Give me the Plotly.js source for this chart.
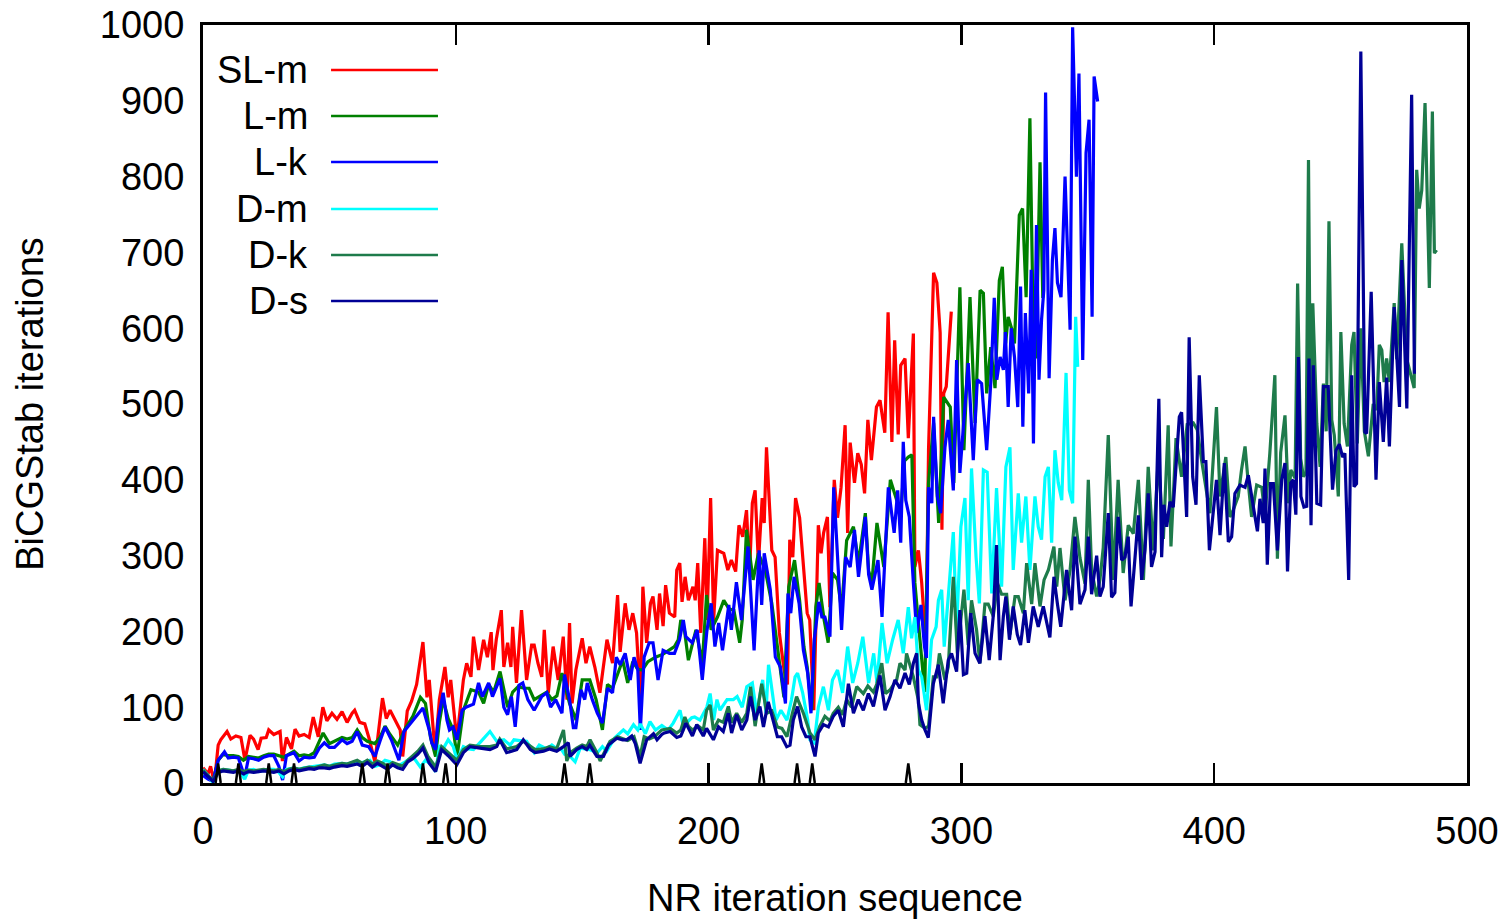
<!DOCTYPE html>
<html>
<head>
<meta charset="utf-8">
<script src="https://cdn.plot.ly/plotly-3.0.1.min.js"></script>
<style>html,body{margin:0;padding:0;background:#fff;}#chart{width:1510px;height:920px;}</style>
</head>
<body>
<div id="chart"></div>
<script>
// ---- data: [NR iteration, BiCGStab iterations] ----
const seriesNames = ["SL-m", "L-m", "L-k", "D-m", "D-k", "D-s"];

const SLm = [[0,20],[2,12],[3,22],[4.5,0],[6,50],[7,57],[9.5,68],[11,58],[13,62],[15,60],[16.6,30],[18.6,63],[20,58],[21.8,44],[23,59],[25,60],[26,70],[28,64],[30.5,68],[31.4,29],[33,60],[35,45],[36.4,71],[38,62],[40,64],[42,60],[43.6,87],[45.6,61],[47.4,100],[49,82],[51,92],[53,84],[55,94],[57,80],[59,92],[60,96],[62,80],[64,78],[65.6,60],[68,28],[71,112],[72.5,85],[74,96],[76,84],[78,70],[79,35],[80.8,95],[82.5,108],[84.5,130],[87,186],[88.6,113],[89.5,136],[91.8,40],[93.5,110],[95.7,153],[97,113],[98,136],[100.4,57],[103,136],[104.3,158],[106,140],[107,193],[109,149],[111,189],[112.5,166],[114,199],[114.7,149],[116,189],[118,228],[119,153],[120.5,185],[121.8,153],[122.5,206],[124,132],[126,228],[128,136],[130,182],[131,182],[132.5,158],[134,140],[135,202],[136.6,119],[138.5,180],[140.5,136],[142.5,193],[144,110],[145,211],[146,105],[147.5,149],[150,191],[151.5,158],[153,180],[155,153],[157,119],[158,145],[159.8,189],[162,158],[164,248],[165,173],[167,237],[168.5,202],[170,224],[171.5,198],[173,110],[174,259],[175.5,185],[177,237],[178,246],[179.6,202],[180.6,250],[182,207],[183,261],[184.5,224],[186.6,219],[187.4,281],[188.6,290],[189.5,239],[190.7,272],[192,241],[193.8,259],[194.7,241],[195.7,290],[196.9,198],[198.5,323],[199.4,215],[200.8,376],[202,215],[203.5,307],[206,303],[207.6,281],[209,294],[210.7,279],[212,340],[213.5,325],[215,360],[216.2,277],[217.3,369],[218.4,386],[219.7,290],[221.2,376],[222,343],[222.9,443],[225,307],[226.3,298],[228,198],[229.8,150],[231.2,130],[232.1,321],[233.3,298],[234.4,376],[236,350],[237.5,281],[239,224],[240,215],[241.6,96],[243.4,340],[244.5,303],[245.5,330],[247,351],[248,232],[249.7,400],[251,350],[252.4,390],[254,472],[255,330],[256,449],[257.7,396],[259,435],[260.4,420],[261.7,382],[263,479],[264.4,426],[266.4,496],[267.8,505],[269.7,462],[271,621],[272.5,450],[273.6,584],[275,460],[276,551],[277.7,560],[279,455],[281,593],[281.6,285],[283,307],[284.3,264],[286,180],[287,440],[289,673],[290.3,660],[291.6,594],[292.3,334],[293,514],[294,523],[296,622]];

const Lm = [[0,15],[2,8],[4,3],[6,30],[8,38],[10,36],[12,36],[14,35],[16,30],[18,35],[20,34],[22,33],[24,36],[26,38],[28,38],[30,36],[32,34],[34,38],[36,42],[38,36],[40,37],[42,36],[44,40],[46,55],[47.5,66],[50,52],[52,55],[55,60],[57,58],[59,60],[61,70],[63,60],[65,55],[68,52],[70,60],[72,75],[74,64],[77,50],[80,72],[83,88],[86,113],[88,105],[90,60],[92,35],[93.5,80],[95,110],[97,85],[99,70],[100.5,35],[103,96],[106,123],[109,120],[111,105],[113,130],[115,120],[117.5,147],[120.5,100],[122.5,120],[124.6,127],[127,125],[129,125],[131,110],[133,114],[136,120],[138,110],[140,115],[142,145],[145,105],[147.6,83],[150,136],[153,136],[155.5,110],[158,70],[160,130],[162,125],[164,145],[166,162],[168,132],[170,160],[172,150],[173.8,149],[176,160],[179,166],[182,170],[184.5,175],[186.5,180],[188,189],[189,215],[190.5,200],[192,162],[195,202],[197.5,158],[199.2,248],[201,202],[203.5,219],[206,241],[208,230],[210,228],[212.3,185],[213.3,215],[215,334],[217.6,268],[219.7,303],[222.4,281],[225,237],[226.7,189],[228.4,149],[229.8,113],[231.7,259],[234,294],[236,241],[237.7,180],[239,153],[240.8,96],[242.4,232],[243.7,264],[245.7,215],[247.3,185],[249,277],[251,268],[252.6,228],[254.6,320],[257.3,338],[259.3,290],[262,356],[263.3,280],[264.6,265],[266.6,343],[269.3,285],[271.9,400],[274,378],[276,356],[277.5,425],[279,430],[280.4,433],[281.6,264],[283.6,189],[285.5,120],[287,396],[289,475],[291,343],[293,509],[295.6,496],[297,396],[299.4,654],[301,439],[303.4,641],[305.4,475],[307.4,650],[308.7,646],[310,514],[311.6,575],[313.3,521],[315,663],[316.2,681],[317.5,580],[318.5,615],[320,598],[321,580],[322.9,749],[324.2,758],[325.6,641],[327.1,877],[328.2,646],[329.5,560],[331.1,819],[332.2,640]];

const Lk = [[0,10],[2,5],[4,2],[6,30],[8.5,41],[10,33],[12,34],[14,33],[16.5,8],[18,33],[20,32],[22,30],[24,34],[26,36],[28,36],[30,22],[31.5,4],[33,36],[36,40],[38,29],[40,34],[42,33],[44,34],[46,46],[48,53],[50,47],[52,47],[55,57],[57,52],[59,55],[61,68],[63,50],[65.5,48],[68,35],[70,55],[72,74],[74.5,57],[77.5,30],[79.5,68],[83,83],[87,99],[89.5,70],[90.5,53],[92,44],[93,83],[95,119],[96.5,83],[97.5,70],[99,74],[100.5,57],[102.5,96],[104,100],[107,104],[109,132],[110.5,114],[113,132],[114.5,114],[117.5,138],[119,100],[120.5,90],[122,114],[123.5,74],[125,129],[126.5,132],[128.5,110],[131,96],[134,114],[136,119],[137.5,100],[139.5,110],[142,92],[143,143],[145,110],[146.5,73],[147.5,73],[149.5,123],[151,110],[152,132],[154,110],[156,92],[158,79],[160,125],[162,119],[163.5,166],[165,156],[167,171],[169,136],[170.5,166],[172,149],[173,70],[174.5,166],[176.5,185],[178,185],[180,136],[182,175],[184.5,171],[186.5,171],[188.5,189],[190,215],[191,193],[193.5,185],[195.5,202],[197.5,136],[199.3,200],[201,237],[202.5,180],[204,211],[205.5,175],[208,235],[209,202],[211,265],[213,215],[215.6,312],[218,175],[220,307],[221,235],[222,303],[224.4,255],[226.4,166],[228.4,153],[230.4,105],[231.4,250],[232.5,224],[233.8,272],[235.8,237],[237.5,175],[239.2,145],[240.5,92],[241.8,189],[243.6,239],[244.8,219],[246,219],[248,193],[249.5,390],[251.3,281],[252.6,202],[254.2,298],[256,285],[257.7,334],[259.3,272],[262,351],[263.3,275],[264.6,255],[267,294],[268.6,219],[270.3,330],[271.1,390],[273.4,330],[274.8,386],[276,317],[277,450],[278,373],[279.4,351],[281,264],[282.3,198],[284,235],[285.4,180],[286.2,165],[287,390],[288.3,369],[289,483],[290.5,378],[291.8,356],[293.5,443],[294.8,479],[296.8,386],[298.1,558],[299.4,409],[300.8,466],[302.7,554],[304.7,426],[306.3,532],[308,527],[310,439],[311.6,527],[313,640],[314,532],[315.3,562],[316.6,545],[317.4,595],[318.5,496],[319.7,600],[321,562],[322.3,496],[323.4,655],[324.3,470],[325.3,620],[326.6,514],[327.6,677],[328.5,448],[329.7,736],[330.7,532],[331.7,611],[332.6,650],[333.3,911],[334.7,534],[336,690],[337,732],[338,660],[339.4,641],[341,800],[343,598],[344,997],[345.5,800],[346.5,936],[348,558],[349.3,831],[350.5,875],[351.7,615],[352.5,932],[353.9,899]];

const Dm = [[0,18],[2,10],[4,0],[6,15],[8,18],[10,17],[12,16],[14,17],[16.5,5],[18,17],[20,18],[22,15],[24,17],[26,18],[28,18],[30,14],[31.5,8],[33,18],[36,20],[38,18],[40,20],[42,21],[44,22],[46,22],[48,24],[50,22],[52,25],[55,26],[57,25],[60,28],[63,27],[66,30],[68,22],[70,24],[72,30],[74,28],[77,22],[80,28],[83,35],[86,21],[88,30],[90,25],[92,15],[93.6,48],[95,45],[97,57],[99,48],[100.5,30],[103,48],[105,45],[107,44],[110,55],[113.5,68],[116.2,55],[119,57],[121.5,50],[123,57],[125.4,56],[128,55],[129.4,48],[131,40],[133,50],[136,45],[138,50],[140,45],[141.9,44],[143,38],[145.2,35],[147.2,28],[149.2,46],[152,45],[153.1,44],[156,40],[158,48],[159.7,42],[163,60],[166.3,70],[168,65],[170.3,77],[172,70],[173,78],[175,65],[176.8,81],[179,70],[181.5,76],[184,70],[186,79],[188.7,96],[190,75],[193.3,86],[194.5,87],[196.6,83],[199.3,100],[200.6,118],[202,83],[203.3,110],[204.5,96],[207.3,110],[209.8,110],[211.3,114],[213.3,100],[215.1,127],[217.3,132],[219,92],[221.4,136],[222.7,92],[223.7,156],[226.7,83],[228.6,96],[231,83],[232.8,110],[234.2,140],[235.2,145],[237.2,119],[239.2,83],[240.1,57],[241.8,53],[243.4,100],[245.4,127],[247.4,96],[249,136],[251,149],[253,119],[255,180],[257,132],[259,158],[261,193],[263.3,132],[265.3,171],[266.6,132],[268.6,211],[270.6,158],[272.8,189],[275,215],[277,171],[279,232],[280.3,191],[281.6,219],[283,149],[284.3,140],[286.2,96],[288.2,189],[290,206],[290.9,241],[292.2,255],[293.2,180],[294.8,246],[296.8,331],[298.1,202],[299.8,338],[301.4,376],[302.7,241],[304,415],[305.8,298],[307.1,237],[308.7,413],[310.2,410],[312,250],[313.9,389],[315.9,259],[317.6,417],[319.2,443],[320.5,281],[322.5,382],[323.8,317],[325.5,378],[327.1,281],[329.1,378],[330.4,338],[331.7,321],[333.1,404],[334.4,417],[335.7,317],[337,439],[338.3,396],[339.7,373],[341.4,541],[342.7,386],[344,369],[345.2,615],[346,549]];

const Dk = [[0,17],[2,10],[4,3],[6,16],[8,18],[10,17],[12,16],[14,18],[16,15],[18,17],[20,16],[22,17],[24,18],[26,17],[28,16],[30,18],[32,15],[34,18],[36,20],[38,18],[40,20],[42,21],[44,20],[46,22],[48,24],[50,22],[52,24],[55,26],[57,25],[59,27],[61,30],[63,26],[65,30],[67,25],[69,29],[71,26],[73,22],[75,27],[77,24],[79,22],[81,30],[83,36],[85,42],[87,50],[89,35],[91,26],[92,20],[94.4,48],[97,40],[100.4,30],[103,44],[105.6,50],[109.6,48],[113.5,48],[116.2,50],[117.4,58],[120.1,45],[124.1,48],[126.7,55],[129.5,48],[131.4,44],[134.7,45],[137,48],[139.9,45],[142.6,70],[143.9,29],[145.2,40],[147.8,46],[150,50],[151.8,48],[153.1,57],[155.8,40],[157.1,29],[158.4,38],[161,55],[164,61],[166,58],[168,56],[170.5,61],[172.9,35],[174.5,61],[176.5,58],[178.6,61],[181.5,70],[184.8,72],[187.4,66],[189,70],[190.6,87],[192,75],[193.6,70],[196,75],[197.9,70],[199.2,96],[200.6,103],[201.9,70],[203.9,83],[205.8,80],[207.8,101],[209.1,80],[211.1,92],[213.1,80],[215.1,92],[216.6,127],[218.4,75],[221,131],[223,92],[225,95],[227.2,74],[229,72],[231,61],[233,90],[234.8,114],[237.5,92],[240.1,66],[242.1,57],[244,75],[246,88],[248,82],[249.3,92],[251.3,100],[253,90],[254.6,110],[256.5,100],[258.6,127],[261.2,118],[263,128],[265.2,120],[266.5,130],[268.5,158],[270,118],[271.8,123],[274.4,136],[275.7,158],[277.7,149],[278.3,171],[281,140],[283,109],[283.6,77],[285.6,72],[287,75],[288.9,140],[290.2,140],[291.3,171],[293.5,136],[294.8,153],[296.8,272],[298.4,171],[301,255],[302.7,182],[304,241],[306,202],[307.3,158],[309.3,236],[310.6,236],[312.6,220],[314.3,263],[315.9,249],[317.9,249],[319.2,196],[321.2,246],[322.5,246],[324.5,224],[325.8,290],[327.8,236],[329.1,290],[331.1,233],[332.7,268],[334.4,281],[336.6,312],[337.7,259],[339,310],[341,241],[343,281],[344.9,351],[346.9,297],[348.9,263],[350.2,400],[351.5,281],[353.5,246],[354.8,268],[356.1,310],[358.1,459],[360.1,268],[362,400],[364,277],[366,340],[368,329],[370,400],[372,268],[373.9,417],[375.9,307],[377.9,430],[379.9,322],[381.8,472],[382.9,312],[384.9,455],[387.1,404],[389.3,473],[391.7,475],[393.3,466],[395,426],[397,386],[398.3,356],[400.9,496],[402.3,378],[404.6,430],[406.2,351],[407.5,360],[409.5,378],[410.8,413],[412.2,444],[413.5,395],[414.8,351],[416.8,393],[418.8,390],[420.1,353],[422,435],[424,538],[424.7,308],[425,296],[426.3,436],[428,485],[429.4,369],[430.3,413],[432,402],[433,659],[434.2,428],[435.3,404],[436.3,410],[437.3,822],[438.2,420],[439,633],[440.6,474],[441.9,417],[443.2,527],[444.3,464],[445.4,741],[446.5,479],[447.5,459],[449.1,378],[450.1,595],[451.4,474],[452.7,444],[454.4,578],[455.3,595],[456.6,448],[458,600],[459.4,464],[461,431],[462.9,500],[464.3,492],[465.3,578],[466.3,571],[467.2,529],[468.2,560],[469.3,529],[471.2,633],[472.2,559],[474.2,712],[476.2,559],[479.1,521],[480.1,809],[481.1,758],[482.1,782],[483.4,897],[485.1,653],[486.3,886],[487.1,699],[488,703]];

const Ds = [[0,15],[2,8],[4,2],[6,14],[8,16],[10,15],[12,14],[14,16],[16,12],[18,15],[20,14],[22,15],[24,16],[26,15],[28,14],[30,16],[32,12],[34,16],[36,18],[38,16],[40,18],[42,19],[44,18],[46,20],[48,20],[50,19],[52,21],[55,23],[57,22],[59,24],[61,25],[63,22],[65,27],[67,21],[69,26],[71,22],[73,18],[75,24],[77,20],[79,18],[81,28],[83,32],[85,38],[87,46],[89.5,26],[92,15],[94.4,44],[97,36],[100.4,24],[103,40],[105.6,48],[109.6,46],[113.5,44],[116.2,48],[117.4,57],[120.1,40],[124.1,44],[126.7,57],[129.5,44],[131.4,40],[134.7,42],[137,45],[139.9,42],[142.6,48],[144.5,53],[145.2,35],[147.8,44],[150,48],[151.8,44],[153,50],[155.8,35],[158.4,35],[160.4,50],[163.7,59],[166,57],[167.6,57],[169.6,62],[171,52],[172.9,26],[175.5,57],[178.2,65],[179.6,57],[181.5,64],[182.5,66],[184.8,68],[187.4,60],[189,62],[190,70],[191,79],[193.6,62],[195.3,77],[197.9,62],[199.2,72],[201.9,57],[203.9,74],[205.8,68],[207.8,92],[209.1,66],[211.1,90],[213.1,70],[215.1,83],[216.6,114],[218.4,83],[220.3,101],[221.7,74],[223.6,107],[225.6,83],[227.2,61],[228.9,61],[230.9,48],[232.2,50],[233.5,83],[235.2,101],[236.8,74],[238.5,61],[240.1,61],[242.1,35],[243.4,66],[245.4,77],[247.4,74],[249.3,88],[251.3,96],[253.3,74],[255.3,131],[257.3,92],[259.2,110],[261.2,96],[263.2,118],[265.2,101],[267.8,142],[269.8,96],[271.8,114],[273.7,136],[275.7,125],[277.7,145],[279.4,130],[281,158],[282.3,171],[283,105],[284.3,83],[285.6,70],[286.9,60],[288.9,131],[290.9,156],[292.8,105],[294.8,162],[296.1,171],[298.1,147],[299.4,228],[300.8,143],[302.1,145],[303.7,224],[305.4,171],[307.3,158],[309.3,220],[311,162],[312.6,220],[313.9,314],[315.3,162],[316.6,220],[317.6,246],[319,189],[320.5,233],[322.1,196],[323.4,182],[325.1,228],[326.5,185],[328.4,233],[330.4,206],[332.4,233],[335,192],[336.6,272],[338,236],[339.3,206],[341.6,281],[343.6,228],[344.9,325],[346.9,236],[348.9,255],[350.2,325],[351.5,249],[353.5,300],[354.8,246],[356.1,259],[358.1,356],[359.4,245],[360.7,251],[362,351],[363.4,294],[364.7,298],[366,325],[367.1,233],[368.6,294],[370,353],[371.3,268],[372.6,307],[373.9,382],[375.2,285],[376.6,305],[378.1,507],[379.2,298],[380.1,367],[381.2,338],[382.5,371],[383.8,364],[386.2,483],[387.1,489],[389.1,351],[390.1,588],[391.5,404],[392.8,367],[394.1,538],[395.7,424],[396.7,424],[398.1,307],[399.6,356],[400.9,400],[402.3,327],[404,422],[405.6,318],[406.9,325],[408.2,382],[410.2,393],[412.2,390],[413.5,406],[415.5,364],[417.1,332],[418.1,375],[419.4,343],[420.1,415],[421,288],[422.3,395],[423.4,395],[425,307],[426.7,400],[428,422],[429,279],[430.3,396],[431.3,400],[432.3,354],[433.3,562],[434.3,378],[435.5,364],[436.6,365],[437.5,560],[438.3,340],[439.2,551],[440.6,369],[442.1,367],[443.2,523],[445.1,523],[446.8,387],[448.2,439],[449.5,447],[450.8,430],[451.7,435],[453.2,268],[454.4,538],[455.3,391],[456.3,395],[458,965],[459.6,463],[460.3,461],[462.1,648],[464,400],[465.3,529],[466.9,450],[468.2,535],[469.3,444],[471.2,628],[473.3,496],[474.2,690],[476.2,494],[478.1,908],[479.2,540]];

// unlabelled black marks along the axis (iteration, height)
const markX = [6, 14, 26, 36, 63, 73, 87, 96, 143, 153, 221, 235, 241, 279];
const markH = [26, 26, 26, 26, 26, 26, 26, 26, 26, 26, 26, 26, 26, 26];

const xTicks = [0, 100, 200, 300, 400, 500];
const yTicks = [0, 100, 200, 300, 400, 500, 600, 700, 800, 900, 1000];

// ---- styling ----
const colors = ["#ff0000", "#008000", "#0000ff", "#00ffff", "#1e7b4b", "#000096"];
const allSeries = [SLm, Lm, Lk, Dm, Dk, Ds];
const FONT = "Liberation Sans, Arial, Helvetica, sans-serif";
const FS = 38;

const traces = allSeries.map((s, i) => ({
  type: "scatter", mode: "lines", name: seriesNames[i],
  x: s.map(p => p[0]), y: s.map(p => p[1]),
  line: {color: colors[i], width: 3.2}, showlegend: false, hoverinfo: "skip"
}));

// black marks (separate little peaks, gaps in between)
const bx = [], by = [];
markX.forEach((m, i) => { bx.push(m - 1, m, m + 1, null); by.push(0, markH[i], 0, null); });
traces.push({type: "scatter", mode: "lines", x: bx, y: by, connectgaps: false,
  line: {color: "#000000", width: 2.5}, showlegend: false, hoverinfo: "skip"});

// legend drawn gnuplot-style: label on the left, sample on the right
const legRowsY = [0.9406, 0.880, 0.8193, 0.7573, 0.6966, 0.6359];
const annotations = seriesNames.map((n, i) => ({
  xref: "paper", yref: "paper", x: 0.0847, y: legRowsY[i], xanchor: "right", yanchor: "middle",
  text: n, showarrow: false, font: {family: FONT, size: FS, color: "#000"}
}));
const shapes = seriesNames.map((n, i) => ({
  type: "line", xref: "paper", yref: "paper", x0: 0.1013, x1: 0.1859, y0: legRowsY[i], y1: legRowsY[i],
  line: {color: colors[i], width: 2.5}
}));

const layout = {
  width: 1510, height: 920,
  margin: {l: 203, r: 43, t: 25, b: 137},
  paper_bgcolor: "#ffffff", plot_bgcolor: "#ffffff",
  font: {family: FONT, size: FS, color: "#000"},
  xaxis: {
    range: [0, 500], tickvals: xTicks, ticktext: xTicks.map(String),
    ticks: "inside", ticklen: 20, tickwidth: 2.5, tickcolor: "#000",
    showline: true, linewidth: 3, linecolor: "#000", mirror: "allticks",
    showgrid: false, zeroline: false, ticklabelstandoff: 12,
    tickfont: {family: FONT, size: FS, color: "#000"},
    title: {text: "NR iteration sequence", font: {family: FONT, size: FS, color: "#000"}, standoff: 34}
  },
  yaxis: {
    range: [0, 1000], tickvals: yTicks, ticktext: yTicks.map(String),
    ticks: "", showline: true, linewidth: 3, linecolor: "#000", mirror: true,
    showgrid: false, zeroline: false, ticklabelstandoff: 8,
    tickfont: {family: FONT, size: FS, color: "#000"},
    title: {text: "BiCGStab iterations", font: {family: FONT, size: FS, color: "#000"}, standoff: 45}
  },
  annotations: annotations, shapes: shapes, showlegend: false
};

Plotly.newPlot("chart", traces, layout, {displayModeBar: false, staticPlot: true});
</script>
</body>
</html>
